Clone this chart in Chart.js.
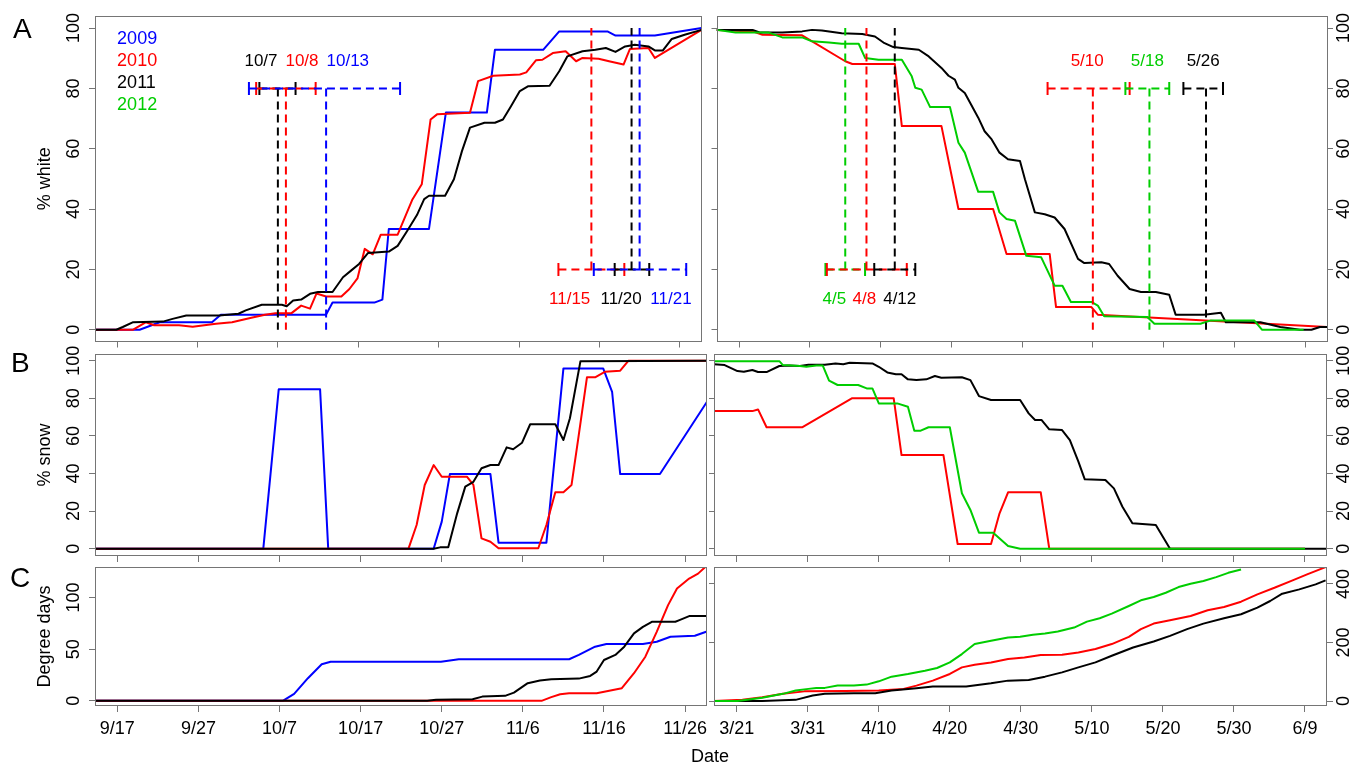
<!DOCTYPE html>
<html>
<head>
<meta charset="utf-8">
<title>% white, % snow and degree days</title>
<script src="https://cdn.jsdelivr.net/npm/chart.js@4.4.1/dist/chart.umd.min.js"></script>
<style>
  body { margin: 0; background: #fff; font-family: "Liberation Sans", Arial, sans-serif; }
  #page { position: relative; width: 1352px; height: 762px; overflow: hidden; }
  canvas { position: absolute; }
  .panel { position: absolute; font-size: 28px; line-height: 28px; }
  #date { position: absolute; left: 610px; top: 747px; width: 200px; text-align: center; font-size: 18px; line-height: 18px; }
</style>
</head>
<body>
<div id="page">
  <canvas id="whiteFall" width="710" height="350" style="left:0;top:0"></canvas>
  <canvas id="whiteSpring" width="644" height="350" style="left:708px;top:0"></canvas>
  <canvas id="snowFall" width="710" height="224" style="left:0;top:338px"></canvas>
  <canvas id="snowSpring" width="644" height="224" style="left:708px;top:338px"></canvas>
  <canvas id="ddFall" width="710" height="202" style="left:0;top:560px"></canvas>
  <canvas id="ddSpring" width="644" height="202" style="left:708px;top:560px"></canvas>
  <div class="panel" style="left:13px;top:15px">A</div>
  <div class="panel" style="left:11px;top:349px">B</div>
  <div class="panel" style="left:10px;top:564px">C</div>
  <div id="date">Date</div>
</div>
<script>
// x values are days: fall panels count from 1 Sep, spring panels from 1 Mar
const fallTickDays = [16, 26, 36, 46, 56, 66, 76, 86];
const fallTickLabels = ['9/17', '9/27', '10/7', '10/17', '10/27', '11/6', '11/16', '11/26'];
const springTickDays = [20, 30, 40, 50, 60, 70, 80, 90, 100];
const springTickLabels = ['3/21', '3/31', '4/10', '4/20', '4/30', '5/10', '5/20', '5/30', '6/9'];
const pctTicks = [0, 20, 40, 60, 80, 100];
const ddFallTicks = [0, 50, 100];
const ddSpringTicks = [0, 200, 400];
const legendYears = ['2009', '2010', '2011', '2012'];

// % white, [day, value]
const whiteFall2009 = [[13,0],[18.8,0],[21.3,2.5],[27.8,2.5],[28.9,5],[42,5],[42.8,9],[48,9],[49,10],[49.8,33.4],[54.8,33.4],[56.9,72],[62,72],[63,92.8],[69,92.8],[71,98.9],[77,98.9],[78,97.5],[82.9,97.5],[88.7,100]];
const whiteFall2010 = [[13,0],[18,0],[19.6,2.5],[20.6,1.5],[23.7,1.5],[25.4,1],[28.3,2],[30.3,2.5],[32.7,4],[34.4,5],[35.7,5.5],[37.7,5.5],[38.9,8],[40,7],[40.8,12],[42,11],[43.9,11],[44.9,13.5],[45.9,17],[46.8,26.8],[47.8,25],[48.8,31.5],[50.9,31.5],[52.7,43],[53.9,48.2],[55,69.7],[55.8,71.4],[59.9,71.9],[60.9,82.4],[62.8,84.2],[66.1,84.6],[66.9,85.3],[68.1,89.3],[68.9,89.5],[70.2,91.7],[71.8,92.3],[73.1,89],[73.9,90.1],[75.9,89.8],[77.2,89],[79,87.9],[79.8,93.1],[82.1,93.4],[82.9,90.1],[88.7,99.4]];
const whiteFall2011 = [[13,0],[15.9,0],[16.7,0.9],[18,2.5],[21.7,2.7],[22.9,3.6],[24.6,4.7],[28.7,4.7],[31.1,5.3],[32,6.4],[34,8.3],[36.5,8.3],[37.1,7.8],[37.9,9.7],[38.9,10],[40,11.9],[41,12.5],[42.8,12.5],[44.1,17.4],[45.1,19.6],[46.1,21.8],[47.2,25.4],[49.8,25.9],[50.9,27.8],[52.1,32.8],[53.3,38],[54.2,43.3],[54.8,44.4],[56.8,44.4],[57.9,49.9],[58.9,59.2],[59.9,67],[61.7,68.6],[63,68.6],[64,69.7],[65,74.1],[66.1,79.1],[67.1,80.7],[69.8,80.9],[71,85.7],[72,90.6],[73.9,92.3],[75.5,92.8],[76.8,93.4],[78,92.1],[79.2,93.9],[80.4,94.5],[82.1,93.9],[82.9,92.6],[83.9,92.6],[85,96.4],[86.6,97.8],[88.7,99.4]];
const whiteSpring2010 = [[16.8,99.4],[21.9,98.9],[23.3,97.8],[28.9,97.6],[35,89],[36,88.1],[42,88.1],[43,67.5],[48.6,67.5],[51,40],[55.9,40],[57.8,25.1],[63.9,25.1],[64.8,7.5],[69.8,7.5],[70.7,5],[103.1,0.9]];
const whiteSpring2011 = [[16.8,99.4],[21.9,99.4],[23,98.5],[26.1,98.5],[28.9,98.9],[30.3,99.4],[31.7,99.2],[34.5,98.3],[37.4,98],[39.2,97.2],[40.4,95.2],[41.8,93.7],[43,93.4],[45.4,92.8],[46.8,90.6],[48.6,86.8],[49.6,84.2],[50.5,82.9],[51,80.2],[51.9,78.5],[52.4,76.3],[53.8,70.3],[54.7,65.8],[55.7,63.1],[56.8,58.7],[58,56.5],[59.7,55.9],[60.4,49.9],[61.8,38.9],[63.2,38.3],[64.6,37.2],[66,33.4],[67.9,23.5],[68.8,22.1],[71.2,22.4],[72.3,21.8],[73.5,17.9],[75.2,13.5],[76.8,12.5],[78.9,12.5],[80.8,11.6],[81.7,5],[85.7,5],[88.1,5.6],[88.8,2.5],[93.7,2.5],[96.5,0.9],[99.3,0],[100.9,0],[102.1,0.9],[103.1,0.9]];
const whiteSpring2012 = [[16.8,99.4],[19.5,98.5],[24.2,98.5],[26.1,96.9],[28.9,96.9],[30.3,95.6],[32.7,95.2],[34.5,94.8],[36.9,94.8],[37.8,90.1],[39.7,89.5],[43,89.5],[44.4,84],[44.9,80.2],[45.8,79.6],[47,73.8],[49.8,73.8],[51,62],[51.9,58.7],[53.8,45.7],[55.9,45.7],[56.8,38.9],[57.8,36.7],[59,36.1],[60.6,24.5],[62.7,24],[64.6,14.6],[65.7,14.6],[66.9,9.2],[69.8,9.2],[70.7,8],[71.6,4.5],[77.7,4.2],[78.7,2],[85.2,2],[86.7,3.1],[92.8,3.1],[93.9,0],[99.8,0]];

// % snow
const snowFall2009 = [[13,0],[34,0],[35.9,84.8],[41,84.8],[42,0],[55,0],[56,14.4],[57,39.7],[62,39.7],[63,3.2],[68.9,3.2],[71,95.9],[75.9,95.9],[77,83.5],[78,39.7],[82.9,39.7],[88.7,78.2]];
const snowFall2010 = [[13,0],[51.9,0],[52.9,12.6],[53.9,33.9],[55,44.5],[56,38.3],[59.1,38.3],[59.9,33.9],[60.9,5.5],[62,3.7],[63,0.2],[67.9,0.2],[68.9,12.6],[70,30],[71,30],[72,33.9],[72.8,57.8],[73.9,91.2],[74.9,91.2],[76.1,94.1],[78,94.7],[79,100],[88.7,100]];
const snowFall2011 = [[13,0],[55,0],[55.8,0.7],[56.8,0.7],[57.9,18.8],[58.9,33],[59.9,35.6],[60.9,42.8],[62,44.5],[63,44.5],[64,53.9],[64.8,52.9],[65.9,56.4],[66.9,66.2],[70,66.2],[71,57.8],[71.8,69.4],[73.1,99.8],[88.7,100]];
const snowSpring2010 = [[16.8,73.2],[22.2,73.2],[23,74.1],[24.2,64.6],[29.2,64.6],[36.2,80],[42.1,80],[43.2,49.8],[49.1,49.8],[51.1,2.5],[55.8,2.5],[57,18.8],[58.2,30],[62.8,30],[64,0],[100,0]];
const snowSpring2011 = [[16.8,98.1],[18.3,97.7],[20.1,94.5],[21,94.1],[22.2,95.1],[23,94],[24.2,94],[26,97.2],[27.4,97.5],[28.9,97.2],[30.1,97.9],[32.4,97.9],[33.9,98.6],[35,98.1],[35.9,98.9],[39.1,98.6],[40,96.8],[41.2,93.8],[42.4,92.8],[43.2,92.8],[44.1,90.1],[45.3,89.7],[46.7,90.1],[47.9,91.9],[48.8,91],[51.7,91.2],[52.9,89.7],[54.1,81.2],[55.8,79.1],[59.9,79.1],[61.1,72],[62,68.5],[62.9,68.5],[64,63.5],[65.8,63.1],[66.9,57.8],[68.1,46.3],[69,36.9],[71.9,36.5],[73.1,32.1],[74.3,22.3],[75.7,13.5],[79,12.6],[81,0],[103.1,0]];
const snowSpring2012 = [[16.8,99.8],[26,99.8],[26.5,97.7],[28.9,97.2],[29.8,96.8],[31.2,97.5],[32.1,97.5],[33,89.4],[34.2,87.1],[37.1,87.1],[38.3,85.3],[39.1,85.3],[40,77.3],[42.6,77.3],[44.1,75.5],[45,62.8],[45.9,62.8],[47,64.6],[50,64.6],[51.7,29.5],[52.9,20.6],[54.1,8.5],[56.1,8.5],[58.2,1.4],[59.9,0],[100,0]];

// degree days
const degFall2009 = [[13,0],[36.4,0],[37.8,6.8],[39.5,21.9],[41.2,35.4],[42.3,37.9],[55.9,37.9],[58.1,40.2],[71.7,40.2],[72.9,44.4],[74.9,52.4],[76.3,55],[80.8,55],[82.5,57.2],[84.2,62],[86.4,62.7],[87.2,63],[88.6,66.8]];
const degFall2010 = [[13,0],[68.3,0],[69.5,3.6],[70.6,6.4],[71.7,7.4],[75.1,7.4],[76.8,9.9],[78.2,12.2],[79.7,26.7],[81.1,42.7],[82.5,66.8],[83.9,92.6],[85,108.7],[86.5,118.3],[87.6,123.1],[88.7,131]];
const degFall2011 = [[13,0],[54.2,0],[55.3,1],[59.8,1.6],[61,4.1],[63.8,4.8],[64.9,8],[66.6,17.1],[68.1,19.6],[69.5,20.9],[72.9,21.5],[74.3,24.1],[75.1,28.3],[76,39.5],[77.4,44.4],[78.5,52.4],[79.7,65.3],[80.8,71.6],[81.9,76.5],[84.8,76.5],[85.3,78.1],[86.5,82],[88.7,82]];
const degSpring2010 = [[16.8,0],[20.8,4.1],[23.6,13],[26.5,24.5],[29.5,33],[35.3,34],[40,35.7],[43.5,41.5],[45.3,52.7],[47.6,69.7],[50,92.5],[51.7,115],[53.5,124.1],[55.8,132],[58.2,143.5],[60.5,149],[62.8,157],[65.8,158],[68.1,166],[70.5,177.6],[72.8,194.6],[75.2,219.4],[76.9,245.6],[78.7,264.6],[81,276.2],[83.9,290.8],[86.3,310.2],[88.6,321.4],[91,339.5],[93.3,364.6],[95.7,387],[98,409.9],[100.3,432.7],[102.9,457.5]];
const degSpring2011 = [[16.8,0],[23.6,0],[28.3,4],[30.7,18.7],[32.4,24.5],[36.5,26.5],[39.5,26.5],[41.8,35.7],[45.3,43.5],[47.6,49.3],[52.3,49.3],[55.8,60.5],[58.2,69.7],[61.1,72],[63.4,83.3],[65.8,98],[68.1,115],[70.5,132],[72.8,154.8],[75.8,183],[78.7,203.4],[81,222.8],[83.4,245.6],[85.7,264.6],[88.6,283],[91,296.6],[93.3,319],[95.1,341.8],[96.8,366.7],[99.2,381.6],[101.5,398.6],[102.9,412.2]];
const degSpring2012 = [[16.8,0],[20.1,0],[23.6,10.9],[26.5,24.5],[28.3,35.7],[30.1,41.5],[31.2,44.9],[32.4,44.9],[34.2,52.7],[36.5,52.7],[38.3,56.1],[40,67.3],[41.8,83.3],[44.1,92.5],[46.5,103.7],[48.2,112.9],[50,132],[51.7,160.5],[53.5,194.6],[55.8,205.8],[58.2,217],[59.9,219.4],[61.7,226.2],[63.4,230.6],[65.2,237.4],[67.5,251],[69.3,271.4],[71.1,283],[72.8,298.6],[75.2,324.8],[76.9,344.2],[78.7,355.4],[80.4,370],[82.2,389.5],[83.9,400.7],[85.7,409.9],[87.5,423.5],[89.2,438.1],[91,449.7]];

// 80% white dates with their ranges (day, low, high)
const fallOnsetYears = [2011, 2010, 2009];
const fallOnsetDays = [36, 37, 42];
const fallOnsetLow = [33.7, 33.3, 32.4];
const fallOnsetHigh = [38.2, 40.7, 51.2];
const fallOnsetText = ['10/7', '10/8', '10/13'];
const fallDoneYears = [2010, 2011, 2009];
const fallDoneDays = [75, 80, 81];
const fallDoneLow = [70.9, 77.9, 75.3];
const fallDoneHigh = [79.1, 82.2, 86.8];
const fallDoneText = ['11/15', '11/20', '11/21'];
const springOnsetYears = [2012, 2010, 2011];
const springOnsetDays = [35, 38, 42];
const springOnsetLow = [32.2, 32.4, 39.1];
const springOnsetHigh = [37.8, 43.7, 44.9];
const springOnsetText = ['4/5', '4/8', '4/12'];
const springDoneYears = [2010, 2012, 2011];
const springDoneDays = [70, 78, 86];
const springDoneLow = [63.6, 74.6, 82.8];
const springDoneHigh = [75.2, 80.8, 88.4];
const springDoneText = ['5/10', '5/18', '5/26'];

const yearColor = { 2009: '#0000ff', 2010: '#ff0000', 2011: '#000000', 2012: '#00cd00' };
const AXIS = '#757575';
const FONT = '"Liberation Sans", Arial, sans-serif';

Chart.defaults.font.family = FONT;
Chart.defaults.font.size = 18;
Chart.defaults.color = '#000';

const line = (pairs, year) => ({
  data: pairs.map(([x, y]) => ({ x, y })),
  borderColor: yearColor[year], borderWidth: 2, borderJoinStyle: 'round',
  pointRadius: 0, xAxisID: 'x', yAxisID: 'y'
});

// dashed vertical at the date, dashed range with end caps at barLevel
function markers(years, days, lows, highs, barLevel, lineEnd) {
  const out = [];
  years.forEach((yr, i) => {
    const c = yearColor[yr];
    out.push({ data: [{ x: days[i], y: barLevel }, { x: days[i], y: lineEnd }],
      borderColor: c, borderWidth: 2, borderDash: [8, 5], pointRadius: 0, xAxisID: 'x', yAxisID: 'y' });
    out.push({ data: [{ x: lows[i], y: barLevel }, { x: highs[i], y: barLevel }],
      borderColor: c, borderWidth: 2, borderDash: [8, 5], pointStyle: 'line', pointRotation: 90,
      pointRadius: 6.5, pointBorderWidth: 2, pointBorderColor: c, xAxisID: 'x', yAxisID: 'y' });
  });
  return out;
}

function dateNotes(years, texts, xs, level) {
  return years.map((yr, i) => ({ text: texts[i], color: yearColor[yr], x: xs[i], y: level, size: 17, align: 'center' }));
}

const frame = {
  id: 'frame',
  afterDraw(chart) {
    const { ctx, chartArea: a } = chart;
    ctx.save();
    ctx.strokeStyle = AXIS;
    ctx.lineWidth = 1;
    ctx.strokeRect(Math.round(a.left) + 0.5, Math.round(a.top) + 0.5,
      Math.round(a.right - a.left) - 1, Math.round(a.bottom - a.top) - 1);
    ctx.restore();
  }
};

function notes(items) {
  return {
    id: 'notes',
    afterDraw(chart) {
      const { ctx, scales } = chart;
      ctx.save();
      ctx.textBaseline = 'middle';
      items.forEach(n => {
        ctx.font = n.size + 'px ' + FONT;
        ctx.fillStyle = n.color;
        ctx.textAlign = n.align;
        ctx.fillText(n.text, scales.x.getPixelForValue(n.x), scales.y.getPixelForValue(n.y));
      });
      ctx.restore();
    }
  };
}

function xScale(days, labels, showLabels, min, max, height) {
  return {
    type: 'linear', position: 'bottom', min, max,
    afterBuildTicks: s => { s.ticks = days.map(v => ({ value: v })); },
    afterFit: s => { s.height = height; s.paddingLeft = 0; s.paddingRight = 0; },
    grid: { drawOnChartArea: false, tickLength: 6, tickColor: AXIS, tickWidth: 1 },
    border: { display: false },
    ticks: { display: showLabels, autoSkip: false, maxRotation: 0, padding: 6,
      callback: (v, i) => labels[i] }
  };
}

function yScale(ticks, min, max, side, width, pad, title) {
  return {
    type: 'linear', position: side, min, max,
    afterBuildTicks: s => { s.ticks = ticks.map(v => ({ value: v })); },
    afterFit: s => { s.width = width; s.paddingTop = 0; s.paddingBottom = 0; },
    grid: { drawOnChartArea: false, tickLength: 6, tickColor: AXIS, tickWidth: 1 },
    border: { display: false },
    ticks: { autoSkip: false, minRotation: 90, maxRotation: 90, crossAlign: 'center', padding: pad },
    title: { display: !!title, text: title || '', padding: { top: 34, bottom: 0 } }
  };
}

function tickOnly(ticks, min, max) {
  return {
    type: 'linear', position: 'left', min, max,
    afterBuildTicks: s => { s.ticks = ticks.map(v => ({ value: v })); },
    afterFit: s => { s.width = 6; s.paddingTop = 0; s.paddingBottom = 0; },
    grid: { drawOnChartArea: false, tickLength: 5, tickColor: AXIS, tickWidth: 1 },
    border: { display: false },
    ticks: { display: false }
  };
}

// datasets are listed in drawing order; Chart.js paints the first one on top, so reverse
function panel(id, o) {
  const scales = { x: o.x, y: o.y };
  if (o.y2) scales.y2 = o.y2;
  return new Chart(document.getElementById(id), {
    type: 'line',
    data: { datasets: o.datasets.slice().reverse() },
    options: {
      responsive: false, animation: false, events: [],
      layout: { padding: o.padding },
      plugins: { legend: { display: false }, tooltip: { enabled: false } },
      scales
    },
    plugins: [frame, notes(o.notes || [])]
  });
}

const FALL = [13.25, 88.7];
const SPRING = [16.8, 103.1];
const PCT = [-3.9, 104];

panel('whiteFall', {
  padding: { top: 16, left: 0, right: 3, bottom: 0 },
  x: xScale(fallTickDays, fallTickLabels, false, FALL[0], FALL[1], 7),
  y: yScale(pctTicks, PCT[0], PCT[1], 'left', 95, 0, '% white'),
  datasets: [line(whiteFall2009, 2009), line(whiteFall2010, 2010), line(whiteFall2011, 2011),
    ...markers(fallOnsetYears, fallOnsetDays, fallOnsetLow, fallOnsetHigh, 80, 0),
    ...markers(fallDoneYears, fallDoneDays, fallDoneLow, fallDoneHigh, 20, 100)],
  notes: [
    ...legendYears.map((yr, i) => ({ text: yr, color: yearColor[yr], x: 16, y: 96.4 - i * 7.3, size: 18, align: 'left' })),
    ...dateNotes(fallOnsetYears, fallOnsetText, [33.9, 39.0, 44.7], 89),
    ...dateNotes(fallDoneYears, fallDoneText, [72.3, 78.7, 84.9], 10)
  ]
});

panel('whiteSpring', {
  padding: { top: 16, left: 0, right: 0, bottom: 0 },
  x: xScale(springTickDays, springTickLabels, false, SPRING[0], SPRING[1], 7),
  y: yScale(pctTicks, PCT[0], PCT[1], 'right', 25, -4),
  y2: tickOnly(pctTicks, PCT[0], PCT[1]),
  datasets: [line(whiteSpring2010, 2010), line(whiteSpring2011, 2011), line(whiteSpring2012, 2012),
    ...markers(springOnsetYears, springOnsetDays, springOnsetLow, springOnsetHigh, 20, 100),
    ...markers(springDoneYears, springDoneDays, springDoneLow, springDoneHigh, 80, 0)],
  notes: [
    ...dateNotes(springOnsetYears, springOnsetText, [33.45, 37.7, 42.7], 10),
    ...dateNotes(springDoneYears, springDoneText, [69.2, 77.7, 85.6], 89)
  ]
});

panel('snowFall', {
  padding: { top: 16, left: 0, right: 3, bottom: 0 },
  x: xScale(fallTickDays, fallTickLabels, false, FALL[0], FALL[1], 6),
  y: yScale(pctTicks, PCT[0], 103.6, 'left', 95, 0, '% snow'),
  datasets: [line(snowFall2009, 2009), line(snowFall2010, 2010), line(snowFall2011, 2011)]
});

panel('snowSpring', {
  padding: { top: 16, left: 0, right: 0, bottom: 0 },
  x: xScale(springTickDays, springTickLabels, false, SPRING[0], SPRING[1], 6),
  y: yScale(pctTicks, PCT[0], 103.6, 'right', 25, -4),
  y2: tickOnly(pctTicks, PCT[0], 103.6),
  datasets: [line(snowSpring2010, 2010), line(snowSpring2011, 2011), line(snowSpring2012, 2012)]
});

panel('ddFall', {
  padding: { top: 7, left: 0, right: 3, bottom: 0 },
  x: xScale(fallTickDays, fallTickLabels, true, FALL[0], FALL[1], 56),
  y: yScale(ddFallTicks, -5, 129.5, 'left', 95, 0, 'Degree days'),
  datasets: [line(degFall2009, 2009), line(degFall2010, 2010), line(degFall2011, 2011)]
});

panel('ddSpring', {
  padding: { top: 7, left: 0, right: 0, bottom: 0 },
  x: xScale(springTickDays, springTickLabels, true, SPRING[0], SPRING[1], 56),
  y: yScale(ddSpringTicks, -17, 458, 'right', 25, -4),
  y2: tickOnly(ddSpringTicks, -17, 458),
  datasets: [line(degSpring2010, 2010), line(degSpring2011, 2011), line(degSpring2012, 2012)]
});
</script>
</body>
</html>
